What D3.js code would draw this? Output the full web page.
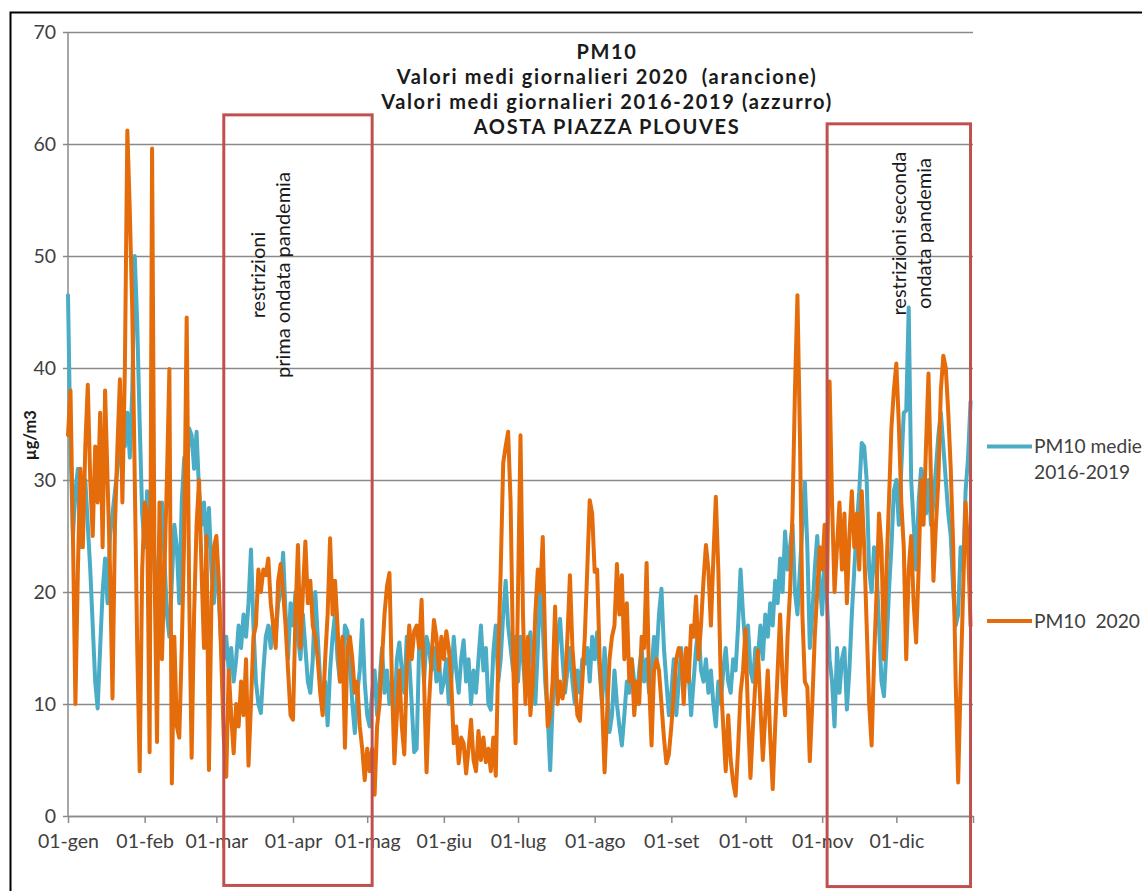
<!DOCTYPE html>
<html>
<head>
<meta charset="utf-8">
<script src="https://cdn.jsdelivr.net/npm/d3@7"></script>
<style>
  body { margin: 0; background: #fff; }
  svg { display: block; font-family: Lato, 'Open Sans', sans-serif; }
  text { white-space: pre; }
</style>
</head>
<body>
<div id="chart"></div>
<script>
// PM10 daily means, Aosta Piazza Plouves
const monthLabels = ['01-gen', '01-feb', '01-mar', '01-apr', '01-mag', '01-giu',
  '01-lug', '01-ago', '01-set', '01-ott', '01-nov', '01-dic']
const yTicks = [0, 10, 20, 30, 40, 50, 60, 70]

// 2020 daily values (arancione), one row per month
const pm2020 = [
  34, 38, 25, 10, 22, 31, 24, 33, 38.5, 30, 25, 33, 28, 36, 24, 38, 30, 22, 10.5, 26, 33, 39, 28, 40, 61.2, 54, 45, 30, 15, 4, 22,
  28, 27, 5.7, 59.6, 22, 6.6, 28, 14, 22, 30, 39.9, 2.9, 16, 8, 7, 15, 25, 44.5, 20, 5.2, 18, 26, 30, 22, 15, 25, 4.1, 19, 24,
  25, 21, 14, 7, 3.5, 13, 9, 5.6, 10, 8, 12, 9, 14, 4.5, 10, 16, 17, 22, 20, 22, 21.5, 23, 19, 17, 15, 21, 22.5, 20, 17, 13, 9,
  8.6, 18, 24.2, 15, 20, 24.5, 19, 21, 17, 16, 14, 11, 9, 14, 18, 24.8, 18, 21, 17, 12, 16, 6.1, 15, 16, 14, 11, 12, 8, 6, 3.2,
  6, 4, 6, 1.9, 8, 10, 14, 18, 20.5, 21.7, 12, 4.7, 9, 13, 8, 5.5, 13, 17, 14, 16.5, 17, 15, 19.3, 12, 3.9, 10, 14, 17.5, 16, 13, 16,
  14, 16.5, 15, 12, 6.5, 8, 4.7, 7, 6.5, 3.8, 6, 8.6, 5, 4, 7.6, 5, 7, 4.8, 6, 4, 7, 3.6, 14, 22, 31.5, 33, 34.3, 28, 14, 6.5,
  20, 34, 18, 10, 16, 9, 12, 18, 22, 20, 24.9, 15, 8, 9, 12, 18.7, 10, 12, 10.5, 12, 16, 21.5, 15, 12, 9, 8.5, 12, 16, 22, 28.2, 27,
  21.8, 22, 14, 10, 3.9, 9, 14, 16, 17, 22.5, 18, 21.5, 14, 19, 12, 14, 9, 12, 10, 16, 15, 22.6, 12, 6.3, 13, 14, 13, 10, 7, 4.7, 5.5,
  8, 11, 14, 15, 14.5, 10, 15, 12, 17, 16, 19.6, 14, 17, 21, 24.2, 22, 17, 23, 28.5, 22, 12, 8, 4, 9, 5, 3, 1.8, 6, 11, 13,
  16.7, 9, 3.4, 8, 12, 14.8, 10, 5, 9, 13, 7, 2.4, 8, 13, 18, 12, 9, 16, 20, 27, 38, 46.5, 34, 18, 12, 11.5, 4.9, 10, 16, 20, 24,
  22, 26, 20, 38.8, 28, 20, 24, 28, 22, 27, 19, 25, 29, 24, 27, 22, 29, 24, 17, 10, 6.3, 14, 20, 27, 24, 14, 22, 28, 34.6, 38,
  40.4, 35, 28, 24, 14, 22, 25, 19, 15.5, 22, 30, 26, 33, 39.5, 30, 21, 26, 30, 38, 41.1, 40, 36, 31, 24, 12, 3, 12, 20, 28, 24, 17
]

// 2016-2019 mean daily values (azzurro)
const pm1619 = [
  46.5, 33, 25, 29, 31, 24, 28, 30, 26, 22, 17, 12, 9.6, 15, 20, 23, 19, 25, 27, 29, 31, 33, 36, 33, 36, 32, 38, 50, 44, 35, 27,
  24, 29, 26, 28, 22, 20, 25, 28, 23, 18, 16, 21, 26, 24, 19, 28, 32, 30, 34.6, 34, 31, 34.3, 29, 26, 28, 24, 27.5, 22, 19,
  24, 19.3, 15, 14, 16, 13, 15, 12, 14, 17, 15, 18, 16, 19, 23.8, 17, 12, 10, 9.2, 13, 16, 17, 15, 17.5, 16, 19, 20, 23.5, 18, 14, 19,
  17, 20, 16, 14, 18, 15, 12, 11, 14, 20, 16, 12, 11.5, 12, 8.1, 13, 16, 18, 14, 12, 13, 17, 16.5, 14, 10, 7.4, 11, 13, 17.5, 12,
  9, 8, 11, 13, 9, 12, 15, 11, 13, 10, 12, 9, 14, 15.5, 13, 11, 16, 14, 10, 5.7, 6, 15, 17, 12, 16, 15, 13, 15, 12, 14, 11,
  12, 14, 10, 12, 16, 13, 11, 14, 15.7, 12, 14, 10, 13, 11, 14, 17, 13, 15, 10, 9.5, 14.6, 17, 12, 14, 18, 21, 17, 15, 13, 16,
  12, 16, 14, 11, 15, 16.4, 13, 10, 15, 21, 17, 12, 9, 4.1, 10, 12, 16, 17.6, 14, 11, 13, 15, 12, 10, 13, 11, 14, 13.6, 15, 12, 16,
  14, 16.4, 13, 10, 15, 11, 7.5, 9, 13, 10, 8, 6.3, 9, 12, 11, 14, 12, 10, 13, 15, 12, 14, 11, 13, 16, 14, 18, 20.3, 15, 12, 9,
  11, 14, 9, 12, 15, 11, 14, 13, 9, 12, 15, 17, 13, 12, 14, 11, 13, 10, 8, 12, 10, 13, 15, 12, 11, 14, 13, 17, 22, 18,
  15, 17, 13, 12, 15, 14, 17, 14, 18, 16, 19, 17, 21, 19, 23, 20, 25.4, 22, 24, 26, 20, 18, 22, 26, 29.8, 24, 15, 18, 22, 25, 21,
  18, 23, 19, 14, 12, 8, 15, 11, 14, 15, 9.5, 13, 18, 22, 26, 29, 33.3, 33, 30, 22, 20, 24, 22, 17, 12, 10.7, 15, 20, 24, 29,
  30, 26, 31, 36, 36.2, 45.4, 30, 26, 22, 28, 31, 30, 27, 30, 26, 28, 31, 34, 36, 33, 30, 27, 25, 20, 17, 18, 24, 22, 29, 32, 37
]

const titleLines = ['PM10', 'Valori medi giornalieri 2020  (arancione)',
  'Valori medi giornalieri 2016-2019 (azzurro)', 'AOSTA PIAZZA PLOUVES']

const series = [
  { key: 'medie', values: pm1619, color: '#4bacc6', legend: ['PM10 medie', '2016-2019'], legendAt: 33 },
  { key: '2020', values: pm2020, color: '#e46c0a', legend: ['PM10  2020'], legendAt: 17.4 }
]

// lockdown boxes (dates + values in chart units)
const boxes = [
  { from: '2020-03-04', to: '2020-05-03', top: 62.6, bottom: -6.2, textAt: '2020-03-23', textY: 48.3,
    lines: ['restrizioni', 'prima ondata pandemia'] },
  { from: '2020-11-03', to: '2020-12-31', top: 61.8, bottom: -6.3, textAt: '2020-12-07', textY: 52,
    lines: ['restrizioni seconda', 'ondata pandemia'] }
]

const W = 1142
const H = 891
const margin = { top: 32, right: 169, bottom: 75, left: 68 }
const parse = d3.timeParse('%Y-%m-%d')
const day = i => new Date(2020, 0, 1 + i)

const svg = d3.select('#chart').append('svg')
  .attr('width', W)
  .attr('height', H)

svg.append('rect').attr('width', W).attr('height', H).attr('fill', '#fff')
// outer frame
svg.append('rect')
  .attr('x', 10.5).attr('y', 12.5)
  .attr('width', W + 20).attr('height', H + 20)
  .attr('fill', 'none').attr('stroke', '#000').attr('stroke-width', 2)

const x = d3.scaleTime()
  .domain([new Date(2020, 0, 1), new Date(2021, 0, 1)])
  .range([margin.left, W - margin.right])
const y = d3.scaleLinear()
  .domain([0, 70])
  .range([H - margin.bottom, margin.top])

// width of a string at 100px
function measure(str, weight) {
  const t = svg.append('text').attr('font-size', 100).attr('font-weight', weight || 'normal').text(str)
  const w = t.node().getComputedTextLength()
  t.remove()
  return w
}
const fitSize = (str, target, weight) => 100 * target / measure(str, weight)

const tickSize = fitSize('01-gen', 61)
const legendSize = fitSize('PM10 medie', 108)
const noteSize = Math.min(fitSize('prima ondata pandemia', 206), 20)
const unitSize = fitSize('µg/m3', 50, 'bold')
// title: keep line height at 25px, widen with letter spacing instead
const titleSize = 20
const titleSpacing = (450 - measure(titleLines[2], 'bold') * titleSize / 100) / (titleLines[2].length - 1)

const plotW = x.range()[1] - x.range()[0]

// y axis + gridlines
const gy = svg.append('g')
  .attr('transform', `translate(${margin.left},0)`)
  .call(d3.axisLeft(y).tickValues(yTicks).tickSizeInner(-plotW).tickSizeOuter(0).tickPadding(12))
gy.select('.domain').remove()
gy.selectAll('.tick line').attr('x1', -5).attr('stroke', '#8a8a8a').attr('stroke-width', 1.5)
gy.selectAll('.tick text').attr('font-size', tickSize).attr('fill', '#404040').attr('font-family', 'Lato, sans-serif')
svg.append('line')
  .attr('x1', margin.left).attr('x2', margin.left)
  .attr('y1', y(70)).attr('y2', y(0))
  .attr('stroke', '#8a8a8a').attr('stroke-width', 1.5)

// x axis
const months = d3.timeMonth.range(new Date(2020, 0, 1), new Date(2021, 0, 2))
const gx = svg.append('g')
  .attr('transform', `translate(0,${y(0)})`)
  .call(d3.axisBottom(x).tickValues(months)
    .tickFormat((d, i) => monthLabels[i] || '')
    .tickSizeInner(7).tickSizeOuter(0).tickPadding(11))
gx.select('.domain').attr('stroke', '#8a8a8a').attr('stroke-width', 1.5)
gx.selectAll('.tick line').attr('stroke', '#8a8a8a').attr('stroke-width', 1.5)
gx.selectAll('.tick text').attr('font-size', tickSize).attr('fill', '#404040').attr('font-family', 'Lato, sans-serif')

// unit label
svg.append('text')
  .attr('transform', `translate(36,${y(34)}) rotate(-90)`)
  .attr('text-anchor', 'middle')
  .attr('font-size', unitSize)
  .attr('font-weight', 'bold')
  .attr('fill', '#1a1a1a')
  .text('µg/m3')

// data lines
const line = d3.line()
  .x((d, i) => x(day(i)))
  .y(d => y(d))

svg.append('g').selectAll('path')
  .data(series)
  .join('path')
  .attr('d', d => line(d.values))
  .attr('fill', 'none')
  .attr('stroke', d => d.color)
  .attr('stroke-width', 4)
  .attr('stroke-linejoin', 'round')
  .attr('stroke-linecap', 'round')

// title
svg.append('g').selectAll('text')
  .data(titleLines)
  .join('text')
  .attr('x', 607)
  .attr('y', (d, i) => 59 + i * 25)
  .attr('text-anchor', 'middle')
  .attr('font-size', titleSize)
  .attr('letter-spacing', titleSpacing)
  .attr('font-weight', 'bold')
  .attr('fill', '#1a1a1a')
  .text(d => d)

// lockdown boxes
const gb = svg.append('g').selectAll('g')
  .data(boxes)
  .join('g')
gb.append('rect')
  .attr('x', d => x(parse(d.from)))
  .attr('y', d => y(d.top))
  .attr('width', d => x(parse(d.to)) - x(parse(d.from)))
  .attr('height', d => y(d.bottom) - y(d.top))
  .attr('fill', 'none')
  .attr('stroke', '#c0504d')
  .attr('stroke-width', 3)
gb.append('text')
  .attr('transform', d => `translate(${x(parse(d.textAt))},${y(d.textY)}) rotate(-90)`)
  .attr('text-anchor', 'middle')
  .attr('font-size', noteSize)
  .attr('fill', '#1a1a1a')
  .selectAll('tspan')
  .data(d => d.lines.map((l, i) => ({ l, i, n: d.lines.length })))
  .join('tspan')
  .attr('x', 0)
  .attr('y', d => (d.i - (d.n - 1) / 2) * 25)
  .attr('dy', '0.35em')
  .text(d => d.l)

// legend
const lg = svg.append('g').selectAll('g')
  .data(series)
  .join('g')
  .attr('transform', d => `translate(987,${y(d.legendAt)})`)
lg.append('line')
  .attr('x2', 45)
  .attr('stroke', d => d.color)
  .attr('stroke-width', 4)
lg.append('text')
  .attr('font-size', legendSize)
  .attr('fill', '#404040')
  .selectAll('tspan')
  .data(d => d.legend)
  .join('tspan')
  .attr('x', 47)
  .attr('y', (d, i) => i * 26)
  .attr('dy', '0.35em')
  .text(d => d)
</script>
</body>
</html>
